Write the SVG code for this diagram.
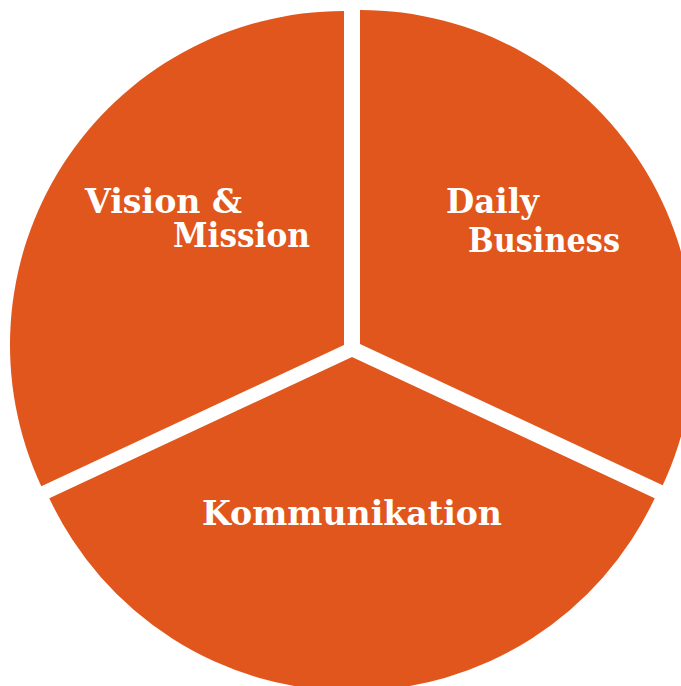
<svg xmlns="http://www.w3.org/2000/svg" width="681" height="686" viewBox="0 0 681 686">
<style>
.w{fill:#E1561C;}
.t{fill:#FFFFFF;font-family:"DejaVu Serif","Liberation Serif",serif;font-weight:bold;font-size:33px;}
</style>
<rect width="681" height="686" fill="#FFFFFF"/>
<g id="vision">
<path class="w" d="M344,345 L41.3,486.2 A334,334 0 0 1 344,11 Z"/>
<text class="t" x="85" y="213" textLength="157" lengthAdjust="spacingAndGlyphs">Vision &amp;</text>
<text class="t" x="173" y="247" textLength="137" lengthAdjust="spacingAndGlyphs">Mission</text>
</g>
<g id="daily">
<path class="w" d="M360,344 L360,10 A334,334 0 0 1 662.7,485.2 Z"/>
<text class="t" x="446" y="213" textLength="93" lengthAdjust="spacingAndGlyphs">Daily</text>
<text class="t" x="468" y="252" textLength="152" lengthAdjust="spacingAndGlyphs">Business</text>
</g>
<g id="kommunikation">
<path class="w" d="M352,357 L654.7,498.2 A334,334 0 0 1 49.3,498.2 Z"/>
<text class="t" x="202" y="525" textLength="300" lengthAdjust="spacingAndGlyphs">Kommunikation</text>
</g>
<g id="connectors"></g>
</svg>
